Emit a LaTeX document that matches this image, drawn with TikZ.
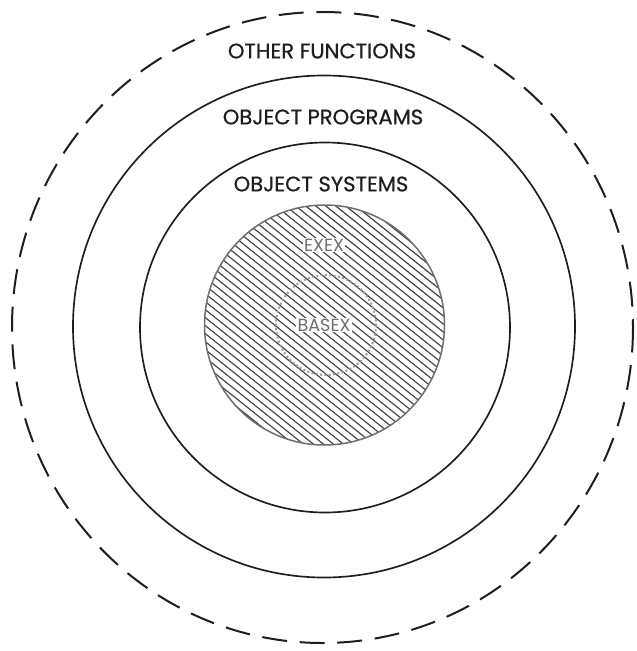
\documentclass[tikz,border=0pt]{standalone}
\usepackage{fontspec}
\setmainfont{Poppins}
\newfontfamily\ringfont{Poppins}[FakeBold=0.6]
\usepackage{tikz}
\definecolor{RingCol}{HTML}{1E1E1E}
\definecolor{CoreCol}{HTML}{6E6E6E}
\begin{document}
\begin{tikzpicture}[x=0.3mm,y=-0.3mm]
  \tikzstyle{ring}=[draw=RingCol, line width=0.5mm]
  \tikzstyle{outring}=[draw=RingCol, line width=0.6mm, dash pattern=on 7.5mm off 3.8mm]
  \tikzstyle{ringlbl}=[font=\ringfont\fontsize{18}{20}\selectfont, text=RingCol, inner sep=1pt]
  \tikzstyle{corelbl}=[font=\fontsize{15}{17}\selectfont, text=CoreCol, fill=white, inner sep=1pt]
  \useasboundingbox (0,0) rectangle (636,651);
  % rings
  \draw[outring] (322.5,327.5) ellipse [x radius=310.5, y radius=315.5];
  \draw[ring] (324,326.5) circle [radius=251];
  \draw[ring] (325,327.5) circle [radius=185];
  % hatched core
  \begin{scope}
    \clip (324.5,325) circle [radius=120];
    \foreach \k in {-30,...,30}
      \draw[RingCol!85, line width=0.35mm] ({324.5+10*\k-160},197) -- ({324.5+10*\k+160},453);
  \end{scope}
  \draw[CoreCol, line width=0.45mm] (324.5,325) circle [radius=120];
  \draw[CoreCol!70, line width=0.6mm, dotted] (326,325) circle [radius=50];
  % labels
  \node[ringlbl] (other) at (322,51) {OTHER FUNCTIONS};
  \node[ringlbl] (progs) at (323,117) {OBJECT PROGRAMS};
  \node[ringlbl] (systs) at (321,184) {OBJECT SYSTEMS};
  \node[corelbl] (exex) at (324,245) {EXEX};
  \node[corelbl] (basex) at (324,325) {BASEX};
\end{tikzpicture}
\end{document}
